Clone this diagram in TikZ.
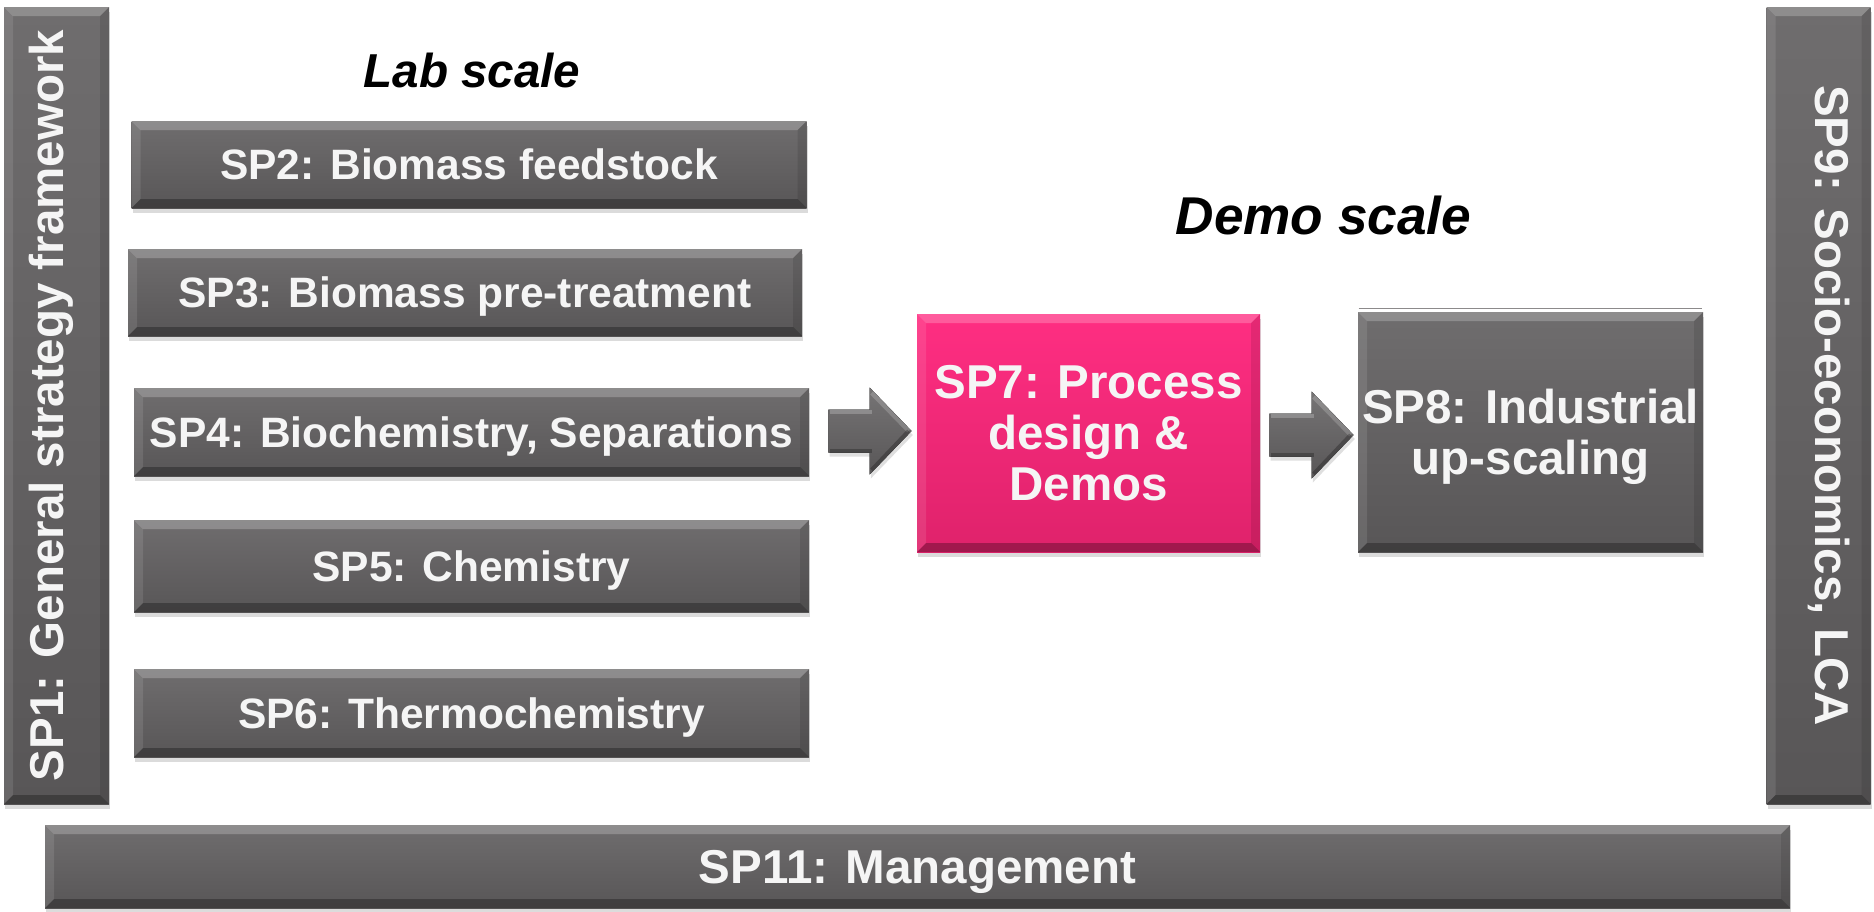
\documentclass[tikz,border=0pt]{standalone}
\usepackage{fontspec}
\setmainfont{Liberation Sans}
\usetikzlibrary{calc,shadows}

\definecolor{boxtop}{HTML}{6F6D6E}
\definecolor{boxbot}{HTML}{585657}
\definecolor{pinktop}{HTML}{FF2E82}
\definecolor{pinkbot}{HTML}{DF226B}
\definecolor{labeltext}{HTML}{F5F5F5}

% bevelled faces drawn inside a box
\newcommand{\bevelfaces}{%
  \def\bv{4.5pt}%
  \fill[white,opacity=0.22] (path picture bounding box.north west) -- (path picture bounding box.north east)
    -- ([shift={(-\bv,-\bv)}]path picture bounding box.north east) -- ([shift={(\bv,-\bv)}]path picture bounding box.north west) -- cycle;
  \fill[white,opacity=0.10] (path picture bounding box.north west) -- ([shift={(\bv,-\bv)}]path picture bounding box.north west)
    -- ([shift={(\bv,\bv)}]path picture bounding box.south west) -- (path picture bounding box.south west) -- cycle;
  \fill[black,opacity=0.10] (path picture bounding box.north east) -- ([shift={(-\bv,-\bv)}]path picture bounding box.north east)
    -- ([shift={(-\bv,\bv)}]path picture bounding box.south east) -- (path picture bounding box.south east) -- cycle;
  \fill[black,opacity=0.28] (path picture bounding box.south west) -- ([shift={(\bv,\bv)}]path picture bounding box.south west)
    -- ([shift={(-\bv,\bv)}]path picture bounding box.south east) -- (path picture bounding box.south east) -- cycle;
}

% block arrow from a tail point to a tip point
\newcommand{\blockarrow}[2]{%
  \fill[arrowbody] ($(#1)+(0,-21.5)$) -- ($(#2)+(-42,-21.5)$) -- ($(#2)+(-42,-43.5)$) -- (#2)
    -- ($(#2)+(-42,43.5)$) -- ($(#2)+(-42,21.5)$) -- ($(#1)+(0,21.5)$) -- cycle;
  \draw[white,opacity=0.22,line width=2pt] ($(#1)+(2,-19)$) -- ($(#2)+(-40,-19)$);
  \draw[white,opacity=0.18,line width=2pt] ($(#2)+(-40,-38)$) -- ($(#2)+(-3,0)$);
  \draw[black,opacity=0.25,line width=2pt] ($(#1)+(2,19.5)$) -- ($(#2)+(-40,19.5)$);
  \draw[black,opacity=0.25,line width=2pt] ($(#2)+(-40,39)$) -- ($(#2)+(-3,0)$);
}

\tikzset{
  boxsize/.style 2 args={minimum width=#1*0.5pt, minimum height=#2*0.5pt},
  bevelled/.style={rectangle, inner sep=0pt, text=labeltext, align=center,
    drop shadow={shadow xshift=0.6pt, shadow yshift=-2.5pt, opacity=0.28},
    path picture={\bevelfaces}},
  graybox/.style={bevelled, top color=boxtop, bottom color=boxbot},
  pinkbox/.style={bevelled, top color=pinktop, bottom color=pinkbot},
  rowfont/.style={font=\fontsize{21.25}{23}\selectfont\bfseries, text height=15.2pt, text depth=0pt},
  bigfont/.style={font=\fontsize{23.75}{25.5}\selectfont\bfseries},
  sidelabel/.style={text=labeltext, inner sep=0pt, font=\fontsize{23.75}{25.5}\selectfont\bfseries,
    text height=17pt, text depth=0pt},
  scalelabel/.style={inner sep=0pt, anchor=base, text=black},
  arrowbody/.style={top color=boxtop!95!white, bottom color=boxbot,
    drop shadow={shadow xshift=0.6pt, shadow yshift=-2pt, opacity=0.25}},
}

\begin{document}
\begin{tikzpicture}[x=0.5pt,y=-0.5pt]
\useasboundingbox[fill=white] (0,0) rectangle (1874,911);

% side columns
\node[graybox, boxsize={105}{797}] (sp1) at (56.5,405.5) {};
\node[sidelabel, rotate=90] (sp1text) at ($(sp1.center)+(-10,0)$) {SP1: General strategy framework};
\node[graybox, boxsize={104}{797}] (sp9) at (1818.5,405.5) {};
\node[sidelabel, rotate=-90] (sp9text) at ($(sp9.center)+(14,0)$) {SP9: Socio-economics, LCA};

% management bar
\node[graybox, boxsize={1745}{83}, bigfont, text height=17pt, text depth=0pt] (sp11) at (917.5,866.5) {SP11: Management};

% lab scale
\node[scalelabel, font=\fontsize{23.8}{26}\selectfont\bfseries\itshape] (lab) at (472,87) {Lab scale};
\node[graybox, boxsize={675}{87}, rowfont] (sp2) at (469,164.5) {SP2: Biomass feedstock};
\node[graybox, boxsize={674}{87}, rowfont] (sp3) at (465,292.5) {SP3: Biomass pre-treatment};
\node[graybox, boxsize={675}{88}, rowfont] (sp4) at (471.5,432) {SP4: Biochemistry, Separations};
\node[graybox, boxsize={675}{92}, rowfont] (sp5) at (471.5,566) {SP5: Chemistry};
\node[graybox, boxsize={675}{88}, rowfont] (sp6) at (471.5,713) {SP6: Thermochemistry};

% demo scale
\node[scalelabel, font=\fontsize{26.6}{29}\selectfont\bfseries\itshape] (demo) at (1323.5,234) {Demo scale};
\node[pinkbox, boxsize={343}{238}, bigfont] (sp7) at (1088.5,433) {SP7: Process\\design \&\\Demos};
\node[graybox, boxsize={345}{240}, bigfont] (sp8) at (1530.5,432) {SP8: Industrial\\\smash{up-scaling}};
\draw[boxtop!80!white, line width=0.8pt] ($(sp8.north west)+(1,-3)$) -- ($(sp8.north east)+(-1,-3)$);

% flow arrows
\coordinate (a1tail) at ($(sp4.east)+(19,-1)$);
\coordinate (a1tip) at ($(sp7.west)+(-5,-2)$);
\blockarrow{a1tail}{a1tip}
\coordinate (a2tail) at ($(sp7.east)+(9,2)$);
\coordinate (a2tip) at ($(sp8.west)+(-4,3)$);
\blockarrow{a2tail}{a2tip}
\end{tikzpicture}
\end{document}
